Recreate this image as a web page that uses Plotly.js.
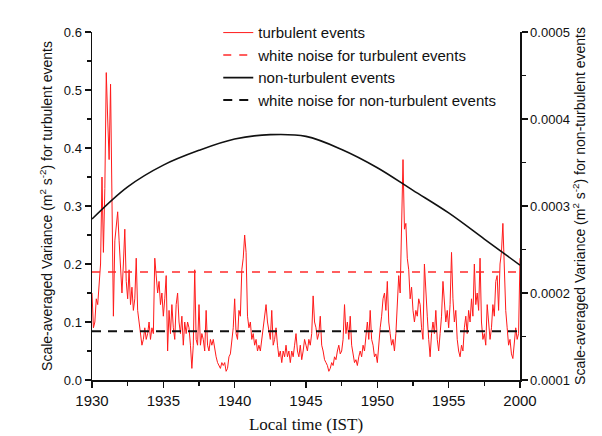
<!DOCTYPE html>
<html>
<head>
<meta charset="utf-8">
<script src="https://cdn.plot.ly/plotly-3.0.1.min.js"></script>
<style>
  html, body { margin: 0; padding: 0; background: #fff; }
  #myDiv { width: 602px; height: 436px; }
</style>
</head>
<body>
<div id="myDiv"></div>
<script>
// minutes after 19:30, sampled every 0.1 min
var step = 0.1;

// scale-averaged variance, turbulent events (left axis)
var turbulent = [
  0.15, 0.09, 0.10, 0.14, 0.13, 0.16, 0.20, 0.35, 0.22, 0.33,
  0.53, 0.45, 0.38, 0.51, 0.34, 0.11, 0.24, 0.27, 0.29, 0.24,
  0.18, 0.15, 0.20, 0.26, 0.17, 0.14, 0.19, 0.13, 0.16, 0.12,
  0.14, 0.21, 0.12, 0.10, 0.08, 0.06, 0.07, 0.09, 0.07, 0.08,
  0.10, 0.07, 0.09, 0.08, 0.21, 0.17, 0.15, 0.17, 0.13, 0.15,
  0.11, 0.14, 0.18, 0.05, 0.12, 0.08, 0.13, 0.09, 0.07, 0.13,
  0.15, 0.10, 0.08, 0.11, 0.06, 0.10, 0.08, 0.10, 0.09, 0.06,
  0.02, 0.06, 0.19, 0.07, 0.06, 0.13, 0.06, 0.08, 0.07, 0.05,
  0.12, 0.06, 0.05, 0.07, 0.06, 0.07, 0.05, 0.04, 0.03, 0.025,
  0.02, 0.03, 0.025, 0.03, 0.015, 0.02, 0.04, 0.045, 0.07, 0.09,
  0.14, 0.08, 0.07, 0.12, 0.11, 0.19, 0.21, 0.25, 0.22, 0.11,
  0.09, 0.10, 0.07, 0.08, 0.06, 0.07, 0.05, 0.06, 0.05, 0.07,
  0.09, 0.10, 0.13, 0.10, 0.08, 0.07, 0.12, 0.06, 0.07, 0.09,
  0.06, 0.04, 0.05, 0.03, 0.05, 0.04, 0.06, 0.04, 0.05, 0.03,
  0.05, 0.04, 0.06, 0.08, 0.05, 0.04, 0.06, 0.035, 0.05, 0.07,
  0.06, 0.05, 0.07, 0.06, 0.08, 0.145, 0.10, 0.09, 0.07, 0.08,
  0.11, 0.06, 0.05, 0.035, 0.03, 0.025, 0.015, 0.02, 0.03, 0.025,
  0.04, 0.035, 0.05, 0.06, 0.045, 0.05, 0.07, 0.13, 0.08, 0.10,
  0.07, 0.11, 0.06, 0.04, 0.03, 0.035, 0.025, 0.04, 0.05, 0.04,
  0.06, 0.05, 0.08, 0.10, 0.07, 0.12, 0.07, 0.06, 0.04, 0.045,
  0.03, 0.07, 0.09, 0.11, 0.14, 0.15, 0.12, 0.17, 0.10, 0.08,
  0.06, 0.07, 0.05, 0.08, 0.12, 0.18, 0.15, 0.285, 0.38, 0.26,
  0.27, 0.21, 0.19, 0.14, 0.16, 0.12, 0.10, 0.12, 0.11, 0.14,
  0.13, 0.09, 0.07, 0.20, 0.14, 0.11, 0.07, 0.04, 0.08, 0.10,
  0.08, 0.12, 0.07, 0.05, 0.08, 0.11, 0.17, 0.13, 0.10, 0.12,
  0.09, 0.13, 0.22, 0.14, 0.10, 0.12, 0.07, 0.05, 0.04, 0.06,
  0.05, 0.09, 0.11, 0.08, 0.12, 0.10, 0.14, 0.11, 0.20, 0.13,
  0.15, 0.12, 0.21, 0.10, 0.07, 0.08, 0.06, 0.13, 0.10, 0.07,
  0.09, 0.13, 0.11, 0.17, 0.18, 0.12, 0.20, 0.22, 0.27, 0.19,
  0.12, 0.09, 0.06, 0.07, 0.045, 0.037, 0.06, 0.09, 0.07, 0.08,
  0.21
];
var turbTime = turbulent.map(function (v, i) { return +(i * step).toFixed(1); });

// non-turbulent events (right axis)
var nonTurbTime = [0, 2.5, 5, 7.5, 10, 12.5, 15, 17.5, 20, 22.5, 25, 27.5, 30];
var nonTurbulent = [0.000285, 0.000322, 0.000347, 0.000364, 0.000377, 0.000382, 0.000380,
                    0.000365, 0.000344, 0.000318, 0.000292, 0.000262, 0.000232];

// white noise levels
var noiseTime = [0, 30];
var noiseTurb = 0.186;        // left axis
var noiseNonTurb = 0.000156;  // right axis

// tick labels (local time, hhmm)
var xTickVals = [0, 5, 10, 15, 20, 25, 30];
var xTickText = ['1930', '1935', '1940', '1945', '1950', '1955', '2000'];
var xMinorVals = [2.5, 7.5, 12.5, 17.5, 22.5, 27.5];

var sans = 'Arial, "Liberation Sans", sans-serif';
var tickFont = {family: sans, size: 13, color: '#111'};

var data = [
  {
    x: turbTime, y: turbulent, type: 'scatter', mode: 'lines',
    name: 'turbulent events',
    line: {color: '#ff1a1a', width: 1}
  },
  {
    x: noiseTime, y: [noiseTurb, noiseTurb], type: 'scatter', mode: 'lines',
    name: 'white noise for turbulent events',
    line: {color: '#ff2a2a', width: 1.5, dash: '8px,8px'}
  },
  {
    x: nonTurbTime, y: nonTurbulent, type: 'scatter', mode: 'lines', yaxis: 'y2',
    name: 'non-turbulent events',
    line: {color: '#111', width: 1.6, shape: 'spline'}
  },
  {
    x: noiseTime, y: [noiseNonTurb, noiseNonTurb], type: 'scatter', mode: 'lines', yaxis: 'y2',
    name: 'white noise for non-turbulent events',
    line: {color: '#111', width: 2, dash: '9px,7px'}
  }
];

var layout = {
  width: 602, height: 436,
  margin: {l: 92, r: 82, t: 32, b: 56},
  paper_bgcolor: '#fff', plot_bgcolor: '#fff',
  showlegend: true,
  legend: {
    x: 0.295, y: 1.045, xanchor: 'left', yanchor: 'top',
    bgcolor: 'rgba(0,0,0,0)',
    font: {family: sans, size: 15, color: '#111'},
    tracegroupgap: 0
  },
  xaxis: {
    range: [0, 30],
    tickmode: 'array', tickvals: xTickVals, ticktext: xTickText,
    ticks: 'outside', ticklen: 6, tickwidth: 1.5, tickcolor: '#111',
    minor: {tickmode: 'array', tickvals: xMinorVals, ticks: 'outside', ticklen: 4, tickcolor: '#111'},
    showline: true, linecolor: '#111', linewidth: 1.5,
    showgrid: false, zeroline: false,
    tickfont: {family: sans, size: 15, color: '#111'},
    title: {text: 'Local time (IST)', font: {family: '"Liberation Serif", "Times New Roman", serif', size: 17, color: '#111'}, standoff: 10}
  },
  yaxis: {
    range: [0, 0.6], dtick: 0.1, tick0: 0, tickformat: '.1f',
    ticks: 'outside', ticklen: 6, tickwidth: 1.5, tickcolor: '#111',
    minor: {dtick: 0.05, ticks: 'outside', ticklen: 4, tickcolor: '#111'},
    showline: true, linecolor: '#111', linewidth: 1.5,
    showgrid: false, zeroline: false,
    tickfont: tickFont,
    title: {text: 'Scale-averaged Variance (m<sup>2</sup> s<sup>-2</sup>) for turbulent events',
            font: {family: sans, size: 14, color: '#111'}, standoff: 8}
  },
  yaxis2: {
    overlaying: 'y', side: 'right',
    range: [0.0001, 0.0005], dtick: 0.0001, tick0: 0.0001, tickformat: '.4f',
    ticks: 'outside', ticklen: 6, tickwidth: 1.5, tickcolor: '#111',
    minor: {dtick: 0.00005, ticks: 'outside', ticklen: 4, tickcolor: '#111'},
    showline: true, linecolor: '#111', linewidth: 1.5,
    showgrid: false, zeroline: false,
    tickfont: tickFont,
    title: {text: 'Scale-averaged Variance (m<sup>2</sup> s<sup>-2</sup>) for non-turbulent events',
            font: {family: sans, size: 14, color: '#111'}, standoff: 6}
  }
};

Plotly.newPlot('myDiv', data, layout, {displayModeBar: false, staticPlot: true});
</script>
</body>
</html>
